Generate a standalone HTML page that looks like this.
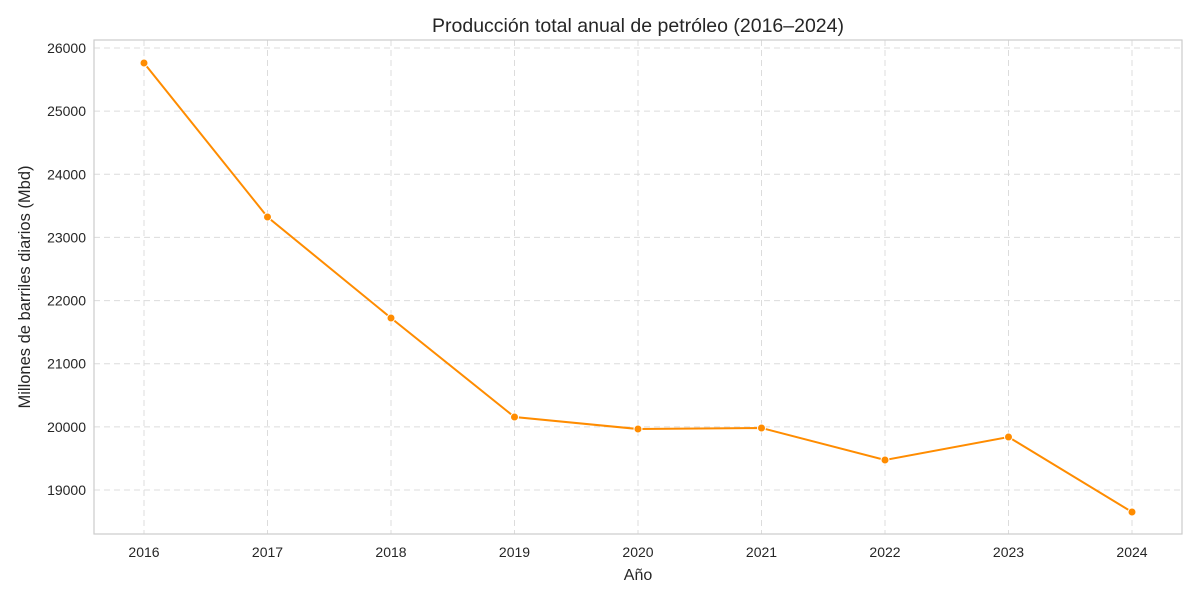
<!DOCTYPE html>
<html><head><meta charset="utf-8"><style>
body{margin:0;background:#fff;font-family:"Liberation Sans","DejaVu Sans",sans-serif}
</style></head><body>
<svg id="chart" width="1200" height="600" xmlns="http://www.w3.org/2000/svg" font-family="Liberation Sans, DejaVu Sans, sans-serif"></svg>
<script>
const years = [2016,2017,2018,2019,2020,2021,2022,2023,2024];
const production = [25762,23323,21724,20156,19966,19982,19475,19839,18651];
const yTicks = [19000,20000,21000,22000,23000,24000,25000,26000];

const svg = document.getElementById('chart');
const NS = 'http://www.w3.org/2000/svg';
const L=94,R=1182,T=40,B=534;
const x = i => 144 + i*(1132-144)/(years.length-1);
const y = v => 490 - (v-19000)*(490-48)/7000;
function mk(tag, attrs, parent){const e=document.createElementNS(NS,tag);for(const k in attrs)e.setAttribute(k,attrs[k]);(parent||svg).appendChild(e);return e;}

const grid = mk('g',{});


yTicks.forEach(v=>{
  const l=mk('line',{x1:L,x2:R,y1:y(v),y2:y(v),stroke:'#dcdcdc','stroke-dasharray':'6,4','stroke-width':1},grid);
  
  
  const t=mk('text',{x:L-8,y:y(v)+5,'text-anchor':'end','font-size':14,fill:'#262626'});
  t.textContent=v;
  
  
});
years.forEach((yr,i)=>{
  const l=mk('line',{x1:x(i),x2:x(i),y1:T,y2:B,stroke:'#dcdcdc','stroke-dasharray':'6,4','stroke-width':1},grid);
  
  
  const t=mk('text',{x:x(i),y:B+23,'text-anchor':'middle','font-size':14,fill:'#262626'});
  t.textContent=yr;
  
  
});
const frame=mk('rect',{x:L,y:T,width:R-L,height:B-T,fill:'none',stroke:'#cccccc','stroke-width':1.2});



const line=mk('polyline',{points:production.map((v,i)=>x(i)+','+y(v)).join(' '),fill:'none',stroke:'#ff8c00','stroke-width':2});


production.forEach((v,i)=>{
  const c=mk('circle',{cx:x(i),cy:y(v),r:4,fill:'#ff8c00',stroke:'#fff','stroke-width':1});
  
  
});

const title=mk('text',{x:638,y:32,'text-anchor':'middle','font-size':19.5,fill:'#262626'});
title.textContent='Producción total anual de petróleo (2016–2024)';


const xt=mk('text',{x:638,y:580,'text-anchor':'middle','font-size':16,fill:'#262626'});
xt.textContent='Año';


const yt=mk('text',{x:0,y:0,'text-anchor':'middle','font-size':16.5,fill:'#262626',transform:'translate(30,287) rotate(-90)'});
yt.textContent='Millones de barriles diarios (Mbd)';


</script>
</body></html>
